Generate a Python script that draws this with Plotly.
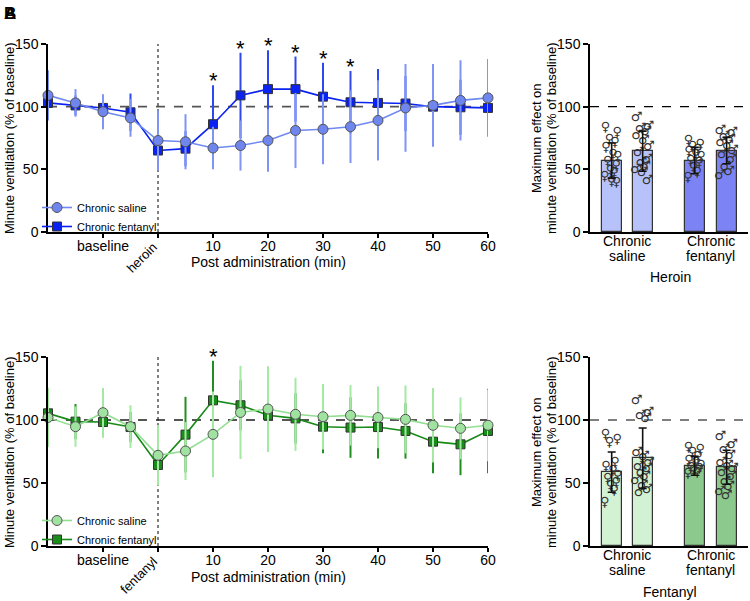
import plotly.graph_objects as go

# ---------------- data ----------------
time_min = [-20, -15, -10, -5, 0, 5, 10, 15, 20, 25, 30, 35, 40, 45, 50, 55, 60]

heroin_saline_mean = [109, 103, 96, 91, 73, 72, 67, 69, 73, 81, 82, 84, 89, 99, 101, 105, 107]
heroin_saline_sd = [20, 11, 14, 15, 24, 22, 17, 20, 25, 30, 28, 29, 32, 35, 33, 32, 31]
heroin_fent_mean = [103, 101, 99, 95.5, 65, 66.5, 86, 109, 114, 114, 108, 103.5, 103, 102.5, 100, 99.5, 99]
heroin_fent_sd = [8, 8, 10, 15, 15, 14, 31, 34, 31, 26, 27, 25, 27, 22, 22, 22, 22]
heroin_star_times = [10, 15, 20, 25, 30, 35]

fent_saline_mean = [102, 94.7, 105.8, 94.7, 72, 75.4, 88.6, 106, 108.7, 104.5, 102.6, 103.7, 102, 100.5, 95.8, 93.4, 95.8]
fent_saline_sd = [23.5, 16, 19.5, 17, 24, 23, 34, 37, 34, 29, 26, 24, 24.5, 27, 29.5, 24.5, 28.5]
fent_fent_mean = [105.3, 98.7, 98.4, 94.4, 64.3, 88.4, 115.6, 111.7, 103.7, 101.3, 94.7, 94, 94.4, 91.3, 82.8, 80.7, 91.3]
fent_fent_sd = [10, 14, 12, 12, 12, 30, 31.5, 20, 20, 20, 21, 24, 25, 22, 25, 24.5, 33.6]
fent_star_times = [10]

x_tickvals = [-10, 0, 10, 20, 30, 40, 50, 60]
x_ticktext = ["baseline", "", "10", "20", "30", "40", "50", "60"]

bar_groups = [("Chronic", "saline"), ("Chronic", "fentanyl")]
bar_sex = ["♀", "♂", "♀", "♂"]

heroin_bar_mean = [57, 64.5, 57, 65]
heroin_bar_sd = [14, 16, 10.5, 10.5]
heroin_points = [
    [83, 79, 74, 71, 67, 62, 60, 56, 53, 49, 47, 44, 40, 39],
    [91, 84, 82, 80, 77, 73, 68, 63, 58, 55, 52, 50, 47, 41],
    [73, 70, 68, 66, 64, 62, 60, 57, 55, 51, 47, 43],
    [81, 79, 76, 74, 71, 69, 65, 62, 58, 52, 48, 45],
]

fentanyl_bar_mean = [58.6, 69.7, 63.6, 62.5]
fentanyl_bar_sd = [16, 24, 7.5, 13.5]
fentanyl_points = [
    [88, 84, 82, 66, 63, 60, 56, 53, 50, 48, 44, 34],
    [115, 106, 103, 101, 74, 71, 66, 63, 61, 58, 55, 52, 48, 45, 42],
    [78, 76, 74, 71, 68, 66, 64, 62, 61, 60, 58, 57],
    [87, 80, 76, 72, 66, 64, 61, 58, 55, 51, 47, 43, 40],
]

# ---------------- styling ----------------
FONT = "Liberation Sans, Arial, sans-serif"
bar_pos = [0, 1, 2.68, 3.71]
group_centers = [0.5, 3.195]
jitter = [-0.2, 0.18, -0.07, 0.11, -0.18, 0.04, 0.2, -0.13, 0.15, -0.04, 0.08, -0.22, 0.0, 0.16, -0.1]

fig = go.Figure()


def add_time_panel(xa, ya, s_mean, s_sd, f_mean, f_sd, s_line, s_fill, f_line, f_fill, s_err, f_err, legend):
    fig.add_trace(go.Scatter(
        x=time_min, y=f_mean, name="Chronic fentanyl", mode="lines+markers",
        xaxis=xa, yaxis=ya, legend=legend, legendrank=2, cliponaxis=False,
        line=dict(color=f_line, width=1.6),
        marker=dict(symbol="square", size=9, color=f_fill, line=dict(color="#333333", width=1)),
        error_y=dict(type="data", array=f_sd, color=f_err, thickness=2, width=0),
    ))
    fig.add_trace(go.Scatter(
        x=time_min, y=s_mean, name="Chronic saline", mode="lines+markers",
        xaxis=xa, yaxis=ya, legend=legend, legendrank=1, cliponaxis=False,
        line=dict(color=s_line, width=1.6),
        marker=dict(symbol="circle", size=10, color=s_fill, line=dict(color="#555555", width=1)),
        error_y=dict(type="data", array=s_sd, color=s_err, thickness=2, width=0),
    ))


add_time_panel("x", "y", heroin_saline_mean, heroin_saline_sd, heroin_fent_mean, heroin_fent_sd,
               "#7089F2", "#6E86EE", "#0A22F2", "#0A22F2", "#7E95F6", "#2E48F0", "legend")
add_time_panel("x3", "y3", fent_saline_mean, fent_saline_sd, fent_fent_mean, fent_fent_sd,
               "#92DE92", "#A0E2A0", "#178A17", "#1A8C1A", "#A4E8A4", "#1F8F1F", "legend2")


def add_bar_panel(xa, ya, means, sds, points, colors):
    fig.add_trace(go.Bar(
        x=bar_pos, y=means, width=0.645, xaxis=xa, yaxis=ya, showlegend=False,
        marker=dict(color=colors, line=dict(color="#333333", width=1.2)),
    ))
    for i, pts in enumerate(points):
        fig.add_trace(go.Scatter(
            x=[bar_pos[i] + jitter[k % len(jitter)] for k in range(len(pts))], y=pts,
            mode="text", text=[bar_sex[i]] * len(pts), xaxis=xa, yaxis=ya, showlegend=False,
            textfont=dict(size=13, color="#333333", family="DejaVu Sans"), cliponaxis=False,
        ))
    fig.add_trace(go.Scatter(
        x=bar_pos, y=means, mode="markers", marker=dict(size=1, color="rgba(0,0,0,0)"),
        xaxis=xa, yaxis=ya, showlegend=False, cliponaxis=False,
        error_y=dict(type="data", array=sds, color="#111111", thickness=1.6, width=4),
    ))


add_bar_panel("x2", "y2", heroin_bar_mean, heroin_bar_sd, heroin_points,
              ["#B8C2FA", "#B8C2FA", "#7C83F4", "#7C83F4"])
add_bar_panel("x4", "y4", fentanyl_bar_mean, fentanyl_bar_sd, fentanyl_points,
              ["#D3F2D3", "#D3F2D3", "#8CC98C", "#8CC98C"])

# ---------------- axes ----------------
top_dom = [1 - 232 / 601, 1 - 44 / 601]
bot_dom = [1 - 546 / 601, 1 - 357 / 601]
left_dom = [48 / 750, 488 / 750]
right_dom = [590 / 750, 748 / 750]

yax = dict(range=[0, 150], tickvals=[0, 50, 100, 150], showline=True, linecolor="black",
           linewidth=1.5, ticks="outside", ticklen=5, tickwidth=1.5, tickcolor="black",
           showgrid=False, zeroline=False, automargin=False, tickfont=dict(size=14, color="black"))
xleft = dict(range=[-20, 60], tickvals=x_tickvals, ticktext=x_ticktext, showline=True,
             linecolor="black", linewidth=1.5, ticks="outside", ticklen=4, tickwidth=1.5,
             tickcolor="black", showgrid=False, zeroline=False, automargin=False,
             ticklabelstandoff=-4, tickfont=dict(size=14, color="black"))
xright = dict(range=[-0.7, 4.4], showticklabels=False, showline=True,
              linecolor="black", linewidth=1.5, ticks="", showgrid=False, zeroline=False,
              automargin=False)

fig.update_layout(
    template="none",
    width=750, height=601, margin=dict(l=0, r=0, t=0, b=0, autoexpand=False),
    paper_bgcolor="white", plot_bgcolor="white",
    font=dict(family=FONT, color="black"),
    bargap=0,
    xaxis=dict(domain=left_dom, anchor="y", **xleft),
    yaxis=dict(domain=top_dom, anchor="x", **yax),
    xaxis2=dict(domain=right_dom, anchor="y2", **xright),
    yaxis2=dict(domain=top_dom, anchor="x2", **yax),
    xaxis3=dict(domain=left_dom, anchor="y3", **xleft),
    yaxis3=dict(domain=bot_dom, anchor="x3", **yax),
    xaxis4=dict(domain=right_dom, anchor="y4", **xright),
    yaxis4=dict(domain=bot_dom, anchor="x4", **yax),
    legend=dict(x=37 / 750, y=1 - 193 / 601, xanchor="left", yanchor="top",
                bgcolor="rgba(0,0,0,0)", font=dict(size=11), itemwidth=30, tracegroupgap=0),
    legend2=dict(x=37 / 750, y=1 - 506 / 601, xanchor="left", yanchor="top",
                 bgcolor="rgba(0,0,0,0)", font=dict(size=11), itemwidth=30, tracegroupgap=0),
)

# ---------------- reference lines ----------------
shapes = []
for xr, yr in [("x", "y"), ("x3", "y3")]:
    shapes.append(dict(type="line", xref=xr, yref=yr, x0=-20, x1=60, y0=100, y1=100,
                       line=dict(color="#555555", width=1.8, dash="dash"), layer="below"))
    shapes.append(dict(type="line", xref=xr, yref=yr, x0=0, x1=0, y0=0, y1=150,
                       line=dict(color="black", width=1, dash="dot"), layer="below"))
for xr, yr in [("x2", "y2"), ("x4", "y4")]:
    shapes.append(dict(type="line", xref=xr, yref=yr, x0=-0.7, x1=4.4, y0=100, y1=100,
                       line=dict(color="black", width=1.2, dash="dash"), layer="below"))
fig.update_layout(shapes=shapes)

# ---------------- annotations ----------------
ann = []
for t in heroin_star_times:
    i = time_min.index(t)
    ann.append(dict(x=t, y=heroin_fent_mean[i] + heroin_fent_sd[i], xref="x", yref="y",
                    text="*", showarrow=False, yanchor="bottom", yshift=-10,
                    font=dict(size=22, color="black")))
for t in fent_star_times:
    i = time_min.index(t)
    ann.append(dict(x=t, y=fent_fent_mean[i] + fent_fent_sd[i], xref="x3", yref="y3",
                    text="*", showarrow=False, yanchor="bottom", yshift=-10,
                    font=dict(size=22, color="black")))
ann.append(dict(x=0.9, y=1 - 237 / 601, xref="x", yref="paper", text="heroin", textangle=-45,
                showarrow=False, xanchor="right", yanchor="top", font=dict(size=13)))
ann.append(dict(x=0.9, y=1 - 551 / 601, xref="x3", yref="paper", text="fentanyl", textangle=-45,
                showarrow=False, xanchor="right", yanchor="top", font=dict(size=13)))
ann.append(dict(x=20, y=1 - 262 / 601, xref="x", yref="paper", text="Post administration (min)",
                showarrow=False, xanchor="center", yanchor="middle", font=dict(size=14)))
ann.append(dict(x=20, y=1 - 577 / 601, xref="x3", yref="paper", text="Post administration (min)",
                showarrow=False, xanchor="center", yanchor="middle", font=dict(size=14)))
# bar group labels
for xr, y1, y2 in [("x2", 241, 256), ("x4", 555, 570)]:
    for gc, (l1, l2) in zip(group_centers, bar_groups):
        ann.append(dict(x=gc, y=1 - y1 / 601, xref=xr, yref="paper", text=l1, showarrow=False,
                        xanchor="center", yanchor="middle", font=dict(size=14)))
        ann.append(dict(x=gc, y=1 - y2 / 601, xref=xr, yref="paper", text=l2, showarrow=False,
                        xanchor="center", yanchor="middle", font=dict(size=14)))
ann.append(dict(x=670 / 750, y=1 - 277 / 601, xref="paper", yref="paper", text="Heroin",
                showarrow=False, xanchor="center", yanchor="middle", font=dict(size=14)))
ann.append(dict(x=670 / 750, y=1 - 592 / 601, xref="paper", yref="paper", text="Fentanyl",
                showarrow=False, xanchor="center", yanchor="middle", font=dict(size=14)))
for yc in [138, 452]:
    ann.append(dict(x=9 / 750, y=1 - yc / 601, xref="paper", yref="paper",
                    text="Minute ventilation (% of baseline)", textangle=-90, showarrow=False,
                    xanchor="center", yanchor="middle", font=dict(size=13)))
    ann.append(dict(x=536 / 750, y=1 - yc / 601, xref="paper", yref="paper",
                    text="Maximum effect on", textangle=-90,
                    showarrow=False, xanchor="center", yanchor="middle", font=dict(size=13)))
    ann.append(dict(x=551 / 750, y=1 - yc / 601, xref="paper", yref="paper",
                    text="minute ventilation (% of baseline)", textangle=-90,
                    showarrow=False, xanchor="center", yanchor="middle", font=dict(size=13)))
for letter in ["A", "B"]:
    ann.append(dict(x=2 / 750, y=1 - 2 / 601, xref="paper", yref="paper", text="<b>%s</b>" % letter,
                    showarrow=False, xanchor="left", yanchor="top", font=dict(size=17, color="black")))
fig.update_layout(annotations=ann)

fig.write_html("out.html", config={"displayModeBar": False},
               post_script="document.body.style.margin='0';document.body.style.overflow='hidden';")
